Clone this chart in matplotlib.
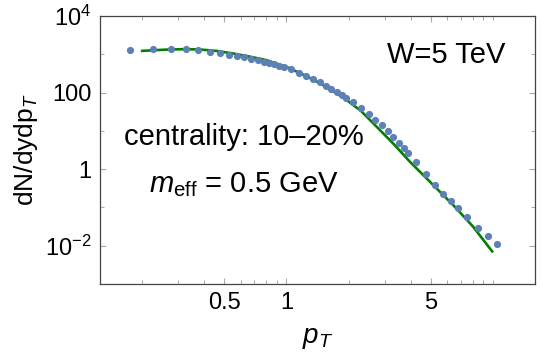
import matplotlib
matplotlib.use('Agg')
import matplotlib.pyplot as plt
from matplotlib.ticker import FixedLocator, LogLocator, NullFormatter, FixedFormatter

plt.rcParams['font.family'] = 'Liberation Sans'
plt.rcParams['mathtext.fontset'] = 'custom'
plt.rcParams['mathtext.rm'] = 'Liberation Sans'
plt.rcParams['mathtext.it'] = 'Liberation Sans:italic'

# data points (pT, dN/dydpT)
pt = [0.175, 0.225, 0.275, 0.325, 0.375, 0.425, 0.475, 0.525, 0.575, 0.625,
      0.675, 0.725, 0.775, 0.825, 0.875, 0.925, 0.975,
      1.05, 1.15, 1.25, 1.35, 1.45, 1.55, 1.65, 1.75, 1.85, 1.95,
      2.1, 2.3, 2.5, 2.7, 2.9, 3.1, 3.3, 3.5, 3.7, 3.9,
      4.25, 4.75, 5.25, 5.75, 6.25, 6.75, 7.5, 8.5, 9.5, 10.5]
yield_ = [1279, 1384, 1359, 1334, 1257, 1155, 1050, 964, 908, 824,
          745, 689, 634, 586, 542, 498, 460,
          408, 315, 263, 224, 187, 150, 125, 104, 85.5, 70.2,
          55.2, 39.2, 27.3, 19.4, 13.8, 9.65, 6.73, 4.77, 3.53, 2.57,
          1.50, 0.740, 0.389, 0.226, 0.143, 0.094, 0.0558, 0.0293, 0.0181, 0.0112]

# model curve
pt_fit = [0.20, 0.26, 0.32, 0.38, 0.46, 0.55, 0.67, 0.80, 1.0, 1.25, 1.46,
          1.89, 2.3, 2.74, 3.3, 3.97, 5.15, 6.43, 8.04, 9.93]
y_fit = [1227, 1320, 1359, 1334, 1220, 1050, 860, 701, 469, 268, 173,
         73.6, 33.0, 12.7, 4.6, 1.55, 0.382, 0.115, 0.0311, 0.0071]

fig = plt.figure(figsize=(5.42, 3.63), dpi=100)
ax = fig.add_axes([0.1845, 0.2176, 0.8025, 0.7384])

ax.plot(pt_fit, y_fit, color='#008000', lw=1.9, zorder=2)
ax.plot(pt, yield_, 'o', color='#5E81B5', ms=5.2, mec='none', zorder=3)

ax.set_xscale('log')
ax.set_yscale('log')
ax.set_xlim(0.125, 16)
ax.set_ylim(1e-3, 1e4)

ax.xaxis.set_major_locator(FixedLocator([0.5, 1, 5]))
ax.xaxis.set_major_formatter(FixedFormatter(['0.5', '1', '5']))
ax.xaxis.set_minor_locator(LogLocator(base=10, subs=(1, 2, 3, 4, 5, 6, 7, 8, 9), numticks=20))
ax.xaxis.set_minor_formatter(NullFormatter())

ax.yaxis.set_major_locator(FixedLocator([1e-2, 1, 1e2, 1e4]))
ax.yaxis.set_major_formatter(FixedFormatter([r'$10^{-2}$', '1', '100', r'$10^4$']))
ax.yaxis.set_minor_locator(FixedLocator([1e-3, 1e-1, 10, 1e3]))
ax.yaxis.set_minor_formatter(NullFormatter())

for s in ax.spines.values():
    s.set_color('#444444')
    s.set_linewidth(0.9)
ax.tick_params(which='both', direction='in', top=True, right=True,
               color='#aaaaaa', labelsize=17, pad=6)
ax.tick_params(which='major', length=4.5, width=0.8)
ax.tick_params(which='minor', length=3, width=0.7)

ax.set_xlabel('$p_T$', fontsize=20, labelpad=8)
ax.set_ylabel('dN/dydp$_T$', fontsize=19, labelpad=4)

ax.text(0.795, 0.825, 'W=5 TeV', transform=ax.transAxes, fontsize=21,
        ha='center', va='baseline')
ax.text(0.331, 0.519, 'centrality: 10–20%', transform=ax.transAxes, fontsize=21,
        ha='center', va='baseline')
ax.text(0.331, 0.344, r'$m_{\rm eff}$ = 0.5 GeV', transform=ax.transAxes, fontsize=21,
        ha='center', va='baseline')

fig.savefig('out.png', dpi=100)
